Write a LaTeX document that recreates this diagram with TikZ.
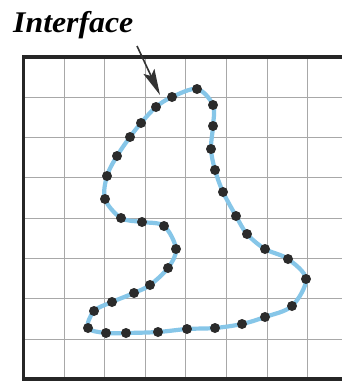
\documentclass[tikz,border=0pt]{standalone}
\usepackage{fontspec}
\setmainfont{Liberation Serif}
\usetikzlibrary{arrows.meta}
\definecolor{curveblue}{HTML}{86C6E8}
\definecolor{dotgray}{HTML}{2B2B2B}
\definecolor{gridgray}{HTML}{A8A8A8}
\begin{document}
\begin{tikzpicture}[x=1pt,y=-1pt,
  gridline/.style={draw=gridgray,line width=1.1pt},
  frameline/.style={draw=black!85,line width=3.6pt},
  curve/.style={draw=curveblue,line width=4.2pt},
  dotnode/.style={circle,fill=dotgray,inner sep=0pt,minimum size=10pt},
  pointer/.style={draw=black!80,line width=1.6pt,-{Stealth[length=26pt,width=12pt,inset=5pt]}},
  label/.style={font=\fontsize{30}{34}\selectfont\bfseries\itshape,inner sep=0pt,anchor=base west}]
\useasboundingbox (0,0) rectangle (342,381);
\fill[white] (0,0) rectangle (342,381);
% grid
\foreach \i in {1,...,7} {
  \draw[gridline] ({23.5+40.6*\i},57) -- ({23.5+40.6*\i},379);
  \draw[gridline] (23.5,{57+40.3*\i}) -- (342,{57+40.3*\i});
}
% frame
\draw[frameline] (342,57) -- (23.5,57) -- (23.5,379) -- (342,379);
% curve
\draw[curve] plot[smooth cycle,tension=0.55] coordinates {
 (197,89) (213,105) (213,126) (211,149) (215,170) (223,192) (236,216) (247,234)
 (265,249) (288,259) (306,279) (292,306) (265,317) (242,324) (215,328) (187,329)
 (158,332) (126,333) (106,333) (88,328) (94,311) (112,302) (134,293) (150,285)
 (168,268) (176,249) (164,226) (142,222) (121,218) (105,199) (107,176) (117,156)
 (130,137) (141,123) (156,107) (172,97)};
% dots
\foreach \p [count=\k] in {(197,89),(213,105),(213,126),(211,149),(215,170),(223,192),(236,216),(247,234),
 (265,249),(288,259),(306,279),(292,306),(265,317),(242,324),(215,328),(187,329),
 (158,332),(126,333),(106,333),(88,328),(94,311),(112,302),(134,293),(150,285),
 (168,268),(176,249),(164,226),(142,222),(121,218),(105,199),(107,176),(117,156),
 (130,137),(141,123),(156,107),(172,97)}
  \node[dotnode] (d\k) at \p {};
% label and arrow
\node[label,xscale=1.06] (iface) at (13,32) {Interface};
\coordinate (arrstart) at (137,46);
\coordinate (arrtip) at (160,95);
\draw[pointer] (arrstart) -- (arrtip);
\end{tikzpicture}
\end{document}
